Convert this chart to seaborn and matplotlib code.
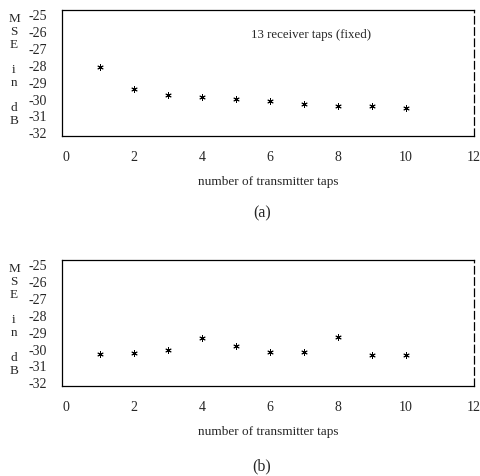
import matplotlib
matplotlib.use("Agg")
import matplotlib.pyplot as plt
import seaborn as sns
import pandas as pd

taps = [1, 2, 3, 4, 5, 6, 7, 8, 9, 10]
mse_a = [-28.15, -29.44, -29.79, -29.93, -30.03, -30.17, -30.34, -30.42, -30.46, -30.58]
mse_b = [-30.35, -30.28, -30.06, -29.39, -29.86, -30.2, -30.18, -29.31, -30.36, -30.4]
xticks = [0, 2, 4, 6, 8, 10, 12]
yticks = [-25, -26, -27, -28, -29, -30, -31, -32]
xlabel = "number of transmitter taps"
annotation = "13 receiver taps (fixed)"
panel_labels = ["(a)", "(b)"]
ylabel_text = "M\nS\nE\n\ni\nn\n\nd\nB"

sns.set_theme(style="white")
plt.rcParams["font.family"] = ["Liberation Serif", "DejaVu Serif"]

fig = plt.figure(figsize=(4.81, 4.77), dpi=100)
W, H = 481, 477

def fx(px):
    return px / W

def fy(py):
    return 1 - py / H

axes_boxes = [(62, 11, 474, 137), (62, 261, 474, 387)]
datasets = [mse_a, mse_b]
panel_y = [213, 466]

for i, (box, mse) in enumerate(zip(axes_boxes, datasets)):
    l, t, r, b = box
    ax = fig.add_axes([fx(l), fy(b), fx(r) - fx(l), fy(t) - fy(b)])
    df = pd.DataFrame({"taps": taps, "mse": mse})
    sns.scatterplot(data=df, x="taps", y="mse", ax=ax, marker=(6, 2, 0),
                    s=16, color="black", linewidth=0.7, edgecolor="black")
    ax.set_xlim(-0.12, 12.0)
    ax.set_ylim(-32.22, -24.76)
    ax.set_xticks(xticks)
    ax.set_yticks(yticks)
    ax.set_xticklabels([str(v) for v in xticks], fontsize=10)
    ax.set_yticklabels([str(v) for v in yticks], fontsize=10)
    ax.tick_params(axis="x", direction="in", length=2, pad=10, width=0.8, color="black")
    ax.tick_params(axis="y", length=0, pad=11)
    ax.set_xlabel(xlabel, fontsize=9.5, labelpad=9)
    ax.set_ylabel("")
    for side in ["left", "top", "bottom"]:
        ax.spines[side].set_color("black")
        ax.spines[side].set_linewidth(0.9)
    ax.spines["right"].set_color("black")
    ax.spines["right"].set_linewidth(0.9)
    ax.spines["right"].set_linestyle((0, (6, 3)))
    if i == 0:
        ax.text(7.2, -26.2, annotation, fontsize=9.3, ha="center", va="center")
    off = 0 if i == 0 else 250
    fig.text(fx(14), fy(70 + off), ylabel_text, fontsize=9.5, ha="center",
             va="center", multialignment="center", linespacing=1.08)
    fig.text(fx(262), fy(panel_y[i]), panel_labels[i], fontsize=11.5, ha="center", va="center")

fig.savefig("out.png", dpi=100, facecolor="white")
